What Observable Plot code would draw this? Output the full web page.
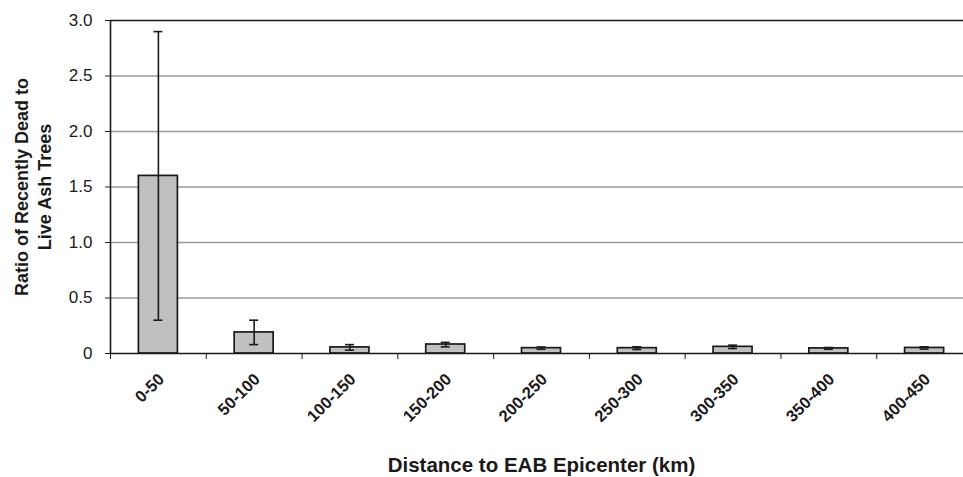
<!DOCTYPE html>
<html>
<head>
<meta charset="utf-8">
<script src="https://cdn.jsdelivr.net/npm/d3@7"></script>
<script src="https://cdn.jsdelivr.net/npm/@observablehq/plot@0.6"></script>
<style>
  html, body { margin: 0; padding: 0; background: #fff; }
  #chart svg { display: block; overflow: hidden; }
</style>
</head>
<body>
<div id="chart"></div>
<script>
const categories = ["0-50", "50-100", "100-150", "150-200", "200-250", "250-300", "300-350", "350-400", "400-450"];
const means   = [1.6, 0.19, 0.055, 0.081, 0.048, 0.048, 0.06, 0.046, 0.05];
const errLow  = [0.3, 0.08, 0.03, 0.06, 0.038, 0.036, 0.045, 0.038, 0.04];
const errHigh = [2.9, 0.3, 0.08, 0.1, 0.058, 0.06, 0.075, 0.054, 0.06];
const yTicks = [0, 0.5, 1.0, 1.5, 2.0, 2.5, 3.0];
const yTitle = "Ratio of Recently Dead to\nLive Ash Trees";
const xTitle = "Distance to EAB Epicenter (km)";

const data = categories.map((c, i) => ({cat: c, mean: means[i], lo: errLow[i], hi: errHigh[i]}));

const W = 963, H = 477;
const mL = 110, mR = -9, mT = 20, mB = 124;
const bw = (W - mR - mL) / categories.length;
const barW = 39;
const inset = (bw - barW) / 2;
const capInset = (bw - 9) / 2;

const chart = Plot.plot({
  width: W,
  height: H,
  marginLeft: mL,
  marginRight: mR,
  marginTop: mT,
  marginBottom: mB,
  style: {fontFamily: "'Liberation Sans', Arial, sans-serif", color: "#1a1a1a", background: "#fff"},
  x: {domain: categories, padding: 0, round: false, axis: null},
  y: {domain: [0, 3], axis: null},
  marks: [
    Plot.ruleY(yTicks.filter(t => t > 0 && t < 3), {stroke: "#9a9a9a", strokeWidth: 1.5}),
    Plot.ruleY([3], {stroke: "#1a1a1a", strokeWidth: 1.6}),
    Plot.barY(data, {x: "cat", y: "mean", fill: "#c0c0c0", stroke: "#1a1a1a", strokeWidth: 1.7, insetLeft: inset, insetRight: inset}),
    Plot.ruleX(data, {x: "cat", y1: "lo", y2: "hi", stroke: "#1a1a1a", strokeWidth: 1.6}),
    Plot.tickY(data, {x: "cat", y: "lo", stroke: "#1a1a1a", strokeWidth: 1.6, insetLeft: capInset, insetRight: capInset}),
    Plot.tickY(data, {x: "cat", y: "hi", stroke: "#1a1a1a", strokeWidth: 1.6, insetLeft: capInset, insetRight: capInset}),
    Plot.ruleY([0], {stroke: "#1a1a1a", strokeWidth: 1.6}),
    Plot.ruleX([categories[0]], {dx: -bw / 2, stroke: "#1a1a1a", strokeWidth: 1.6}),
    Plot.axisY({ticks: yTicks, tickFormat: d => d === 0 ? "0" : d.toFixed(1), tickSize: 5, tickPadding: 13, fontSize: 17, label: null, stroke: "#1a1a1a"}),
    Plot.axisX({tickSize: 6, tickFormat: () => "", dx: -bw / 2, label: null, stroke: "#1a1a1a"}),
    Plot.axisX({tickSize: 0, tickRotate: -45, tickPadding: 22, dx: 3, dy: 1, fontSize: 16.5, fontWeight: "bold", label: null}),
    Plot.text([yTitle], {text: d => d, frameAnchor: "left", textAnchor: "middle", lineAnchor: "middle", rotate: -90, dx: -78, fontSize: 18, fontWeight: "bold", lineHeight: 1.28}),
    Plot.text([xTitle], {text: d => d, frameAnchor: "bottom", dy: 118, fontSize: 20.5, fontWeight: "bold"})
  ]
});
document.getElementById("chart").appendChild(chart);
</script>
</body>
</html>
